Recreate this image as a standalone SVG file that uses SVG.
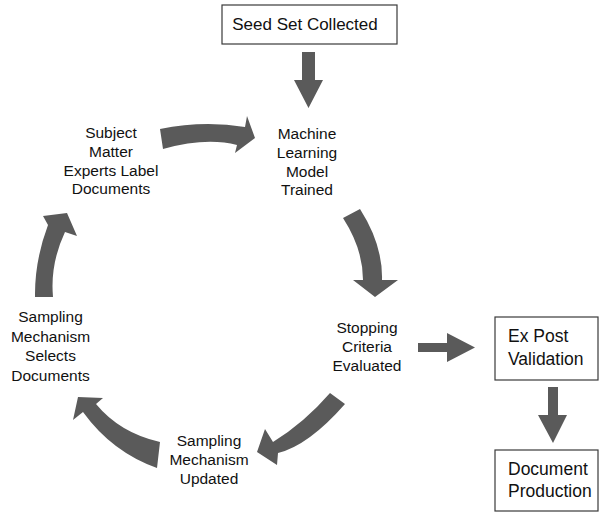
<svg xmlns="http://www.w3.org/2000/svg" width="600" height="513" viewBox="0 0 600 513">
<style>
.bg{fill:#ffffff}
.box{fill:#ffffff;stroke:#3a3a3a;stroke-width:1.2}
.arr{fill:#5a5a5a;stroke:none}
text{font-family:"Liberation Sans",Arial,sans-serif;fill:#111111}
.lbl{font-size:15.5px;text-anchor:middle}
.bt{font-size:17.5px}
</style>
<rect class="bg" x="0" y="0" width="600" height="513"/>
<g id="seed">
<rect class="box" x="222" y="5" width="175" height="39"/>
<text class="bt" x="305" y="30" text-anchor="middle" style="font-size:17px">Seed Set Collected</text>
</g>
<g id="ml">
<text class="lbl" x="307" y="139">Machine</text>
<text class="lbl" x="307" y="158">Learning</text>
<text class="lbl" x="307" y="176.5">Model</text>
<text class="lbl" x="307" y="195">Trained</text>
</g>
<g id="sme">
<text class="lbl" x="111" y="138">Subject</text>
<text class="lbl" x="111" y="157">Matter</text>
<text class="lbl" x="111" y="175.5">Experts Label</text>
<text class="lbl" x="111" y="194">Documents</text>
</g>
<g id="stopping">
<text class="lbl" x="367" y="333">Stopping</text>
<text class="lbl" x="367" y="352">Criteria</text>
<text class="lbl" x="367" y="371">Evaluated</text>
</g>
<g id="selects">
<text class="lbl" x="50.5" y="322">Sampling</text>
<text class="lbl" x="50.5" y="341.5">Mechanism</text>
<text class="lbl" x="50.5" y="361">Selects</text>
<text class="lbl" x="50.5" y="380.5">Documents</text>
</g>
<g id="updated">
<text class="lbl" x="209" y="446">Sampling</text>
<text class="lbl" x="209" y="465">Mechanism</text>
<text class="lbl" x="209" y="484">Updated</text>
</g>
<g id="expost">
<rect class="box" x="495" y="317" width="103" height="63"/>
<text class="bt" x="508" y="342">Ex Post</text>
<text class="bt" x="508" y="365">Validation</text>
</g>
<g id="production">
<rect class="box" x="495" y="450" width="103" height="61"/>
<text class="bt" x="508" y="475">Document</text>
<text class="bt" x="508" y="497">Production</text>
</g>
<g id="connectors">
<polygon class="arr" points="302,52 315,52 315,80 323,80 308.5,108 294,80 302,80"/>
<polygon class="arr" points="418,343 447,343 447,333 475,347.5 447,362 447,352 418,352"/>
<polygon class="arr" points="548,387 558,387 558,415 567,415 553,443 538,415 548,415"/>
<path class="arr" d="M160,129 Q203.5,120 245,127 L247,116 L255,138 L235,153 L237,145 Q206,137 163,149 Z"/>
<path class="arr" d="M360,209 Q383,245 382,280 L398,280 L375,297 L353,280 L363,280 Q363,249 343,218 Z"/>
<path class="arr" d="M345,404 Q308.5,445.5 278,453 L277,465 L257,452 L265,429 L273,442 Q304.5,422.5 330,393 Z"/>
<path class="arr" d="M160,442 Q120,433 96,404 L103,398 L78,397 L73,420 L83,412 Q112,452 157,468 Z"/>
<path class="arr" d="M35,297 Q34.5,261 48,225 L43,216 L67,213 L77,236 L65,232 Q50,264 53,297 Z"/>
</g>
</svg>
